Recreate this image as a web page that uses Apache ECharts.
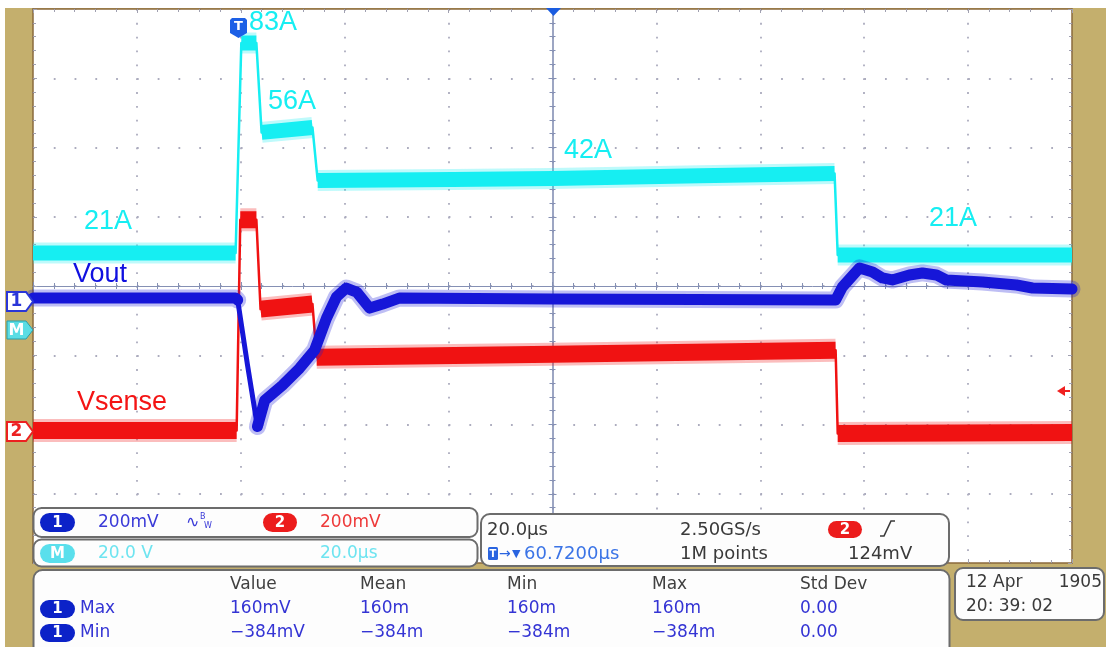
<!DOCTYPE html>
<html><head><meta charset="utf-8">
<script src="https://cdn.jsdelivr.net/npm/echarts@6/dist/echarts.min.js"></script>
<style>html,body{margin:0;padding:0;background:#fff}#c{width:1106px;height:647px}</style>
</head><body><div id="c"></div>
<script>
// ---------- timebase / graticule ----------
const timeMin = -100, timeMax = 100, timePerDiv = 20;   // µs
const divMin = -4, divMax = 4;                           // vertical divisions

// ---------- channel scaling (per division) and ground marker (division) ----------
const currentScale = 20,  currentGround = -0.652;   // M : 20.0 (A) / div
const voutScale    = 200, voutGround    = -0.217;   // Ch1 : 200 mV / div
const senseScale   = 200, senseGround   = -2.101;   // Ch2 : 200 mV / div

// ---------- Math trace: load current (A) ----------
const currentTime  = [-100, -61.0, -59.9, -57.0, -56.0, -46.2, -45.2, -19.2, 0, 28.3, 54.3, 54.9, 100];
const currentAmps  = [22.6, 22.6, 83.2, 83.2, 57.4, 58.8, 43.5, 43.8, 44.1, 44.9, 45.5, 22.0, 22.0];
const currentEdges = [1, 3, 5, 10];

// ---------- Ch2: Vsense (mV) ----------
const senseTime  = [-100, -60.8, -60.1, -57.0, -56.2, -46.2, -45.4, 0, 54.5, 54.9, 100];
const senseMv    = [2.7, 2.7, 611.5, 611.5, 353.5, 368.0, 214.4, 223.1, 234.7, -6.0, -3.1];
const senseEdges = [1, 3, 5, 8];

// ---------- Ch1: Vout (mV) ----------
const voutTime = [-100, -61.0, -60.6, -58.7, -56.8, -55.4, -52.0, -48.7, -45.8, -43.5, -41.6, -39.7, -37.7, -35.2, -32.7, -29.5, 0, 54.5, 55.8, 59.1, 61.6, 63.5, 65.4, 68.7, 71.2, 73.9, 75.8, 82.8, 89.3, 92.4, 100];
const voutMv   = [8.6, 8.6, 2.8, -185.6, -362.5, -287.1, -243.6, -194.3, -142.1, -49.4, 11.5, 37.6, 26.0, -20.4, -8.8, 8.6, 5.7, 2.8, 40.5, 95.6, 84.0, 66.6, 60.8, 75.3, 81.1, 75.3, 60.8, 55.0, 46.3, 37.6, 34.7];
const voutEdges = [2, 3];

// ---------- annotation / readout texts ----------
const currentLabels = ['83A', '56A', '42A', '21A', '21A'];
const measHeaders = ['Value', 'Mean', 'Min', 'Max', 'Std Dev'];
const measMax = ['160mV', '160m', '160m', '160m', '0.00'];
const measMin = ['\u2212384mV', '\u2212384m', '\u2212384m', '\u2212384m', '0.00'];

// ---------- helpers ----------
const pairs = (t, v) => t.map((x, i) => [x, v[i]]);
function band(t, v, edges) {
  const out = [];
  for (let i = 0; i < t.length; i++) {
    const prevEdge = edges.includes(i - 1), nextEdge = edges.includes(i);
    if (prevEdge) out.push([t[i], '-']);
    if (prevEdge && nextEdge) continue;
    out.push([t[i], v[i]]);
  }
  return out;
}
const range = (scale, ground) => ({ min: (divMin - ground) * scale, max: (divMax - ground) * scale });

function trace(t, v, edges, yIdx, color, thin, thick, z, cap) {
  const b = band(t, v, edges);
  return [
    { type: 'line', yAxisIndex: yIdx, data: pairs(t, v), symbol: 'none', animation: false, silent: true, z,
      lineStyle: { color, width: thin, join: 'round' } },
    { type: 'line', yAxisIndex: yIdx, data: b, symbol: 'none', connectNulls: false, animation: false, silent: true, z,
      lineStyle: { color, width: thick + 6, opacity: 0.28, cap: cap || 'butt', join: 'round' } },
    { type: 'line', yAxisIndex: yIdx, data: b, symbol: 'none', connectNulls: false, animation: false, silent: true, z,
      lineStyle: { color, width: thick, cap: cap || 'butt', join: 'round' } }
  ];
}

const BORDER = '#8a6a3c', TICK = '#a0a0b0', CENTER = '#8590b4', DOT = '#acacbe';
const baseX = { type: 'value', min: timeMin, max: timeMax, interval: timePerDiv, axisLabel: { show: false } };
const baseY = { type: 'value', min: divMin, max: divMax, interval: 1, axisLabel: { show: false } };

const xAxes = [
  Object.assign({}, baseX, { position: 'bottom', axisLine: { show: true, onZero: false, lineStyle: { color: BORDER, width: 1.5 } },
    axisTick: { show: true, inside: true, length: 4, lineStyle: { color: TICK } },
    minorTick: { show: true, splitNumber: 5, length: 3, lineStyle: { color: TICK } },
    splitLine: { show: true, lineStyle: { color: DOT, width: 1.8, type: [1.8, 69.25 / 5 - 1.8] } } }),
  Object.assign({}, baseX, { position: 'top', axisLine: { show: true, onZero: false, lineStyle: { color: BORDER, width: 1.5 } },
    axisTick: { show: true, inside: true, length: 4, lineStyle: { color: TICK } },
    minorTick: { show: true, splitNumber: 5, length: 3, lineStyle: { color: TICK } }, splitLine: { show: false } }),
  Object.assign({}, baseX, { position: 'bottom', axisLine: { show: true, onZero: true, onZeroAxisIndex: 0, lineStyle: { color: CENTER, width: 1 } },
    axisTick: { show: true, inside: true, length: 4, lineStyle: { color: CENTER } },
    minorTick: { show: true, splitNumber: 5, length: 3, lineStyle: { color: CENTER } }, splitLine: { show: false } }),
  Object.assign({}, baseX, { position: 'bottom', axisLine: { show: false, onZero: true, onZeroAxisIndex: 0 },
    axisTick: { show: true, inside: false, length: 4, lineStyle: { color: CENTER } },
    minorTick: { show: true, splitNumber: 5, length: 3, lineStyle: { color: CENTER } }, splitLine: { show: false } })
];
const yAxes = [
  Object.assign({}, baseY, { position: 'left', axisLine: { show: true, onZero: false, lineStyle: { color: BORDER, width: 1.5 } },
    axisTick: { show: true, inside: true, length: 4, lineStyle: { color: TICK } },
    minorTick: { show: true, splitNumber: 5, length: 3, lineStyle: { color: TICK } },
    splitLine: { show: true, lineStyle: { color: DOT, width: 1.8, type: [1.8, 1039 / 50 - 1.8] } } }),
  Object.assign({}, baseY, { position: 'right', axisLine: { show: true, onZero: false, lineStyle: { color: BORDER, width: 1.5 } },
    axisTick: { show: true, inside: true, length: 4, lineStyle: { color: TICK } },
    minorTick: { show: true, splitNumber: 5, length: 3, lineStyle: { color: TICK } }, splitLine: { show: false } }),
  Object.assign({}, baseY, { position: 'left', axisLine: { show: true, onZero: true, onZeroAxisIndex: 0, lineStyle: { color: CENTER, width: 1.6 } },
    axisTick: { show: true, inside: true, length: 4, lineStyle: { color: CENTER } },
    minorTick: { show: true, splitNumber: 5, length: 3, lineStyle: { color: CENTER } }, splitLine: { show: false } }),
  Object.assign({}, baseY, { position: 'left', axisLine: { show: false, onZero: true, onZeroAxisIndex: 0 },
    axisTick: { show: true, inside: false, length: 4, lineStyle: { color: CENTER } },
    minorTick: { show: true, splitNumber: 5, length: 3, lineStyle: { color: CENTER } }, splitLine: { show: false } }),
  Object.assign({ type: 'value', show: false, splitLine: { show: false } }, range(currentScale, currentGround)),
  Object.assign({ type: 'value', show: false, splitLine: { show: false } }, range(voutScale, voutGround)),
  Object.assign({ type: 'value', show: false, splitLine: { show: false } }, range(senseScale, senseGround))
];

const CYAN = '#16eef2', BLUE = '#1616d8', RED = '#f01212';
const series = [].concat(
  trace(currentTime, currentAmps, currentEdges, 4, CYAN, 2.5, 15, 3),
  trace(senseTime, senseMv, senseEdges, 6, RED, 2.5, 17, 4),
  trace(voutTime, voutMv, voutEdges, 5, BLUE, 5, 11, 5, 'round')
);

// ---------- graphic overlay ----------
const G = [];
const Z = 100;
function txt(x, y, text, fill, size, o = {}) {
  const al = o.align || 'left';
  G.push({ type: 'text', x, y, z: Z + 2, silent: true,
    style: { text, fill, font: `${o.weight || 'normal'} ${size}px ${o.family || '"DejaVu Sans"'}`,
      textAlign: al, align: al, textVerticalAlign: 'middle', verticalAlign: 'middle' } });
}
function rect(x, y, w, h, r, fill, stroke, lw, z = Z) {
  G.push({ type: 'rect', z, silent: true, shape: { x, y, width: w, height: h, r },
    style: { fill, stroke: stroke || null, lineWidth: lw || 0 } });
}
function pill(x, y, w, h, fill, label) {
  rect(x, y, w, h, h / 2, fill, null, 0, Z + 1);
  txt(x + w / 2, y + h / 2 + 0.5, label, '#ffffff', 15, { weight: 'bold', align: 'center' });
}
function poly(points, fill, stroke, lw, z = Z) {
  G.push({ type: 'polygon', z, silent: true, shape: { points }, style: { fill, stroke: stroke || null, lineWidth: lw || 0 } });
}
function pline(points, stroke, lw, z = Z) {
  G.push({ type: 'polyline', z, silent: true, shape: { points }, style: { fill: null, stroke, lineWidth: lw } });
}

// white margins
rect(0, 0, 1106, 8, 0, '#ffffff', null, 0, 1);
rect(0, 0, 5, 647, 0, '#ffffff', null, 0, 1);

// left channel markers
poly([[7, 292], [26, 292], [33, 301.5], [26, 311], [7, 311]], '#ffffff', '#2a36d8', 2, Z);
txt(16.5, 302, '1', '#2a36d8', 17, { weight: 'bold', align: 'center' });
poly([[7, 321], [26, 321], [33, 330], [26, 339], [7, 339]], '#5adde4', '#2a9ea8', 1, Z);
txt(16.5, 330.5, 'M', '#ffffff', 16, { weight: 'bold', align: 'center' });
poly([[7, 422], [26, 422], [33, 431.5], [26, 441], [7, 441]], '#ffffff', '#ec2020', 2, Z);
txt(16.5, 432, '2', '#ec2020', 17, { weight: 'bold', align: 'center' });

// trigger markers
poly([[546, 8], [561, 8], [553.5, 16]], '#1a5ce0', null, 0, Z);
poly([[230, 20], [232, 18], [245, 18], [247, 20], [247, 33], [238.5, 38], [230, 33]], '#1d60e6', null, 0, Z);
txt(238.5, 27, 'T', '#ffffff', 13, { weight: 'bold', align: 'center' });
poly([[1057, 391], [1065, 386], [1065, 396]], '#f02020', null, 0, Z);
pline([[1064, 391], [1070, 391]], '#f02020', 2, Z);

// trace annotations
const LF = '"Liberation Sans", Arial, sans-serif';
txt(249, 23, currentLabels[0], CYAN, 27, { family: LF });
txt(268, 102, currentLabels[1], CYAN, 27, { family: LF });
txt(564, 151, currentLabels[2], CYAN, 27, { family: LF });
txt(84, 222, currentLabels[3], CYAN, 27, { family: LF });
txt(929, 219, currentLabels[4], CYAN, 27, { family: LF });
txt(73, 275, 'Vout', '#1010e0', 27, { family: LF });
txt(77, 403, 'Vsense', '#f41414', 27, { family: LF });

// readout boxes
const BS = '#6c6c6c', DK = '#3a3a3a', MB = '#3434d4';
rect(33.5, 508, 444, 29, 8, '#fdfdfd', BS, 2);
rect(33.5, 539.5, 444, 27, 8, '#fdfdfd', BS, 2);
rect(481, 514, 468, 52, 9, '#fdfdfd', BS, 2);
rect(33.5, 570, 916, 90, 9, '#fdfdfd', BS, 2);
rect(955, 568, 149, 52, 8, '#fdfdfd', BS, 2);

pill(40, 513, 35, 19, '#0c22c8', '1');
txt(98, 522.5, '200mV', '#3a3ad8', 17);
txt(186, 522.5, '\u223f', '#3a3ad8', 16);
txt(200, 517, 'B', '#3a3ad8', 8);
txt(204, 526, 'W', '#3a3ad8', 8);
pill(263, 513, 34, 19, '#ec1c1c', '2');
txt(320, 522.5, '200mV', '#ee3a3a', 17);

pill(40, 544, 35, 19, '#5adfec', 'M');
txt(98, 554, '20.0 V', '#6ee4f0', 17);
txt(320, 554, '20.0\u00b5s', '#6ee4f0', 17);

txt(487, 530, '20.0\u00b5s', DK, 18);
txt(680, 530, '2.50GS/s', DK, 18);
pill(828, 521, 34, 17, '#ec1c1c', '2');
pline([[880, 536], [884, 536], [891, 521], [895, 521]], DK, 1.6, Z + 2);
rect(488, 547, 10, 13, 1.5, '#2a64e0', null, 0, Z + 1);
txt(493, 554, 'T', '#ffffff', 10, { weight: 'bold', align: 'center' });
txt(499, 554, '\u2192', '#2a64e0', 14);
txt(512, 554, '\u25bc', '#2a64e0', 11);
txt(524, 554, '60.7200\u00b5s', '#3b74e6', 18);
txt(680, 554, '1M points', DK, 18);
txt(848, 554, '124mV', DK, 18);

const colX = [230, 360, 507, 652, 800];
measHeaders.forEach((h, i) => txt(colX[i], 585, h, '#404040', 17));
pill(40, 600, 35, 18, '#0c22c8', '1');
txt(80, 609, 'Max', MB, 17);
measMax.forEach((v, i) => txt(colX[i], 609, v, MB, 17));
pill(40, 624, 35, 18, '#0c22c8', '1');
txt(80, 633, 'Min', MB, 17);
measMin.forEach((v, i) => txt(colX[i], 633, v, MB, 17));

txt(966, 583, '12 Apr', DK, 17);
txt(1102, 583, '1905', DK, 17, { align: 'right' });
txt(966, 607, '20: 39: 02', DK, 17);

const chart = echarts.init(document.getElementById('c'), null, { renderer: 'canvas', width: 1106, height: 647 });
chart.setOption({
  animation: false,
  backgroundColor: '#c4af6d',
  grid: { left: 33, right: 34, top: 9, bottom: 84, show: true, backgroundColor: '#ffffff', borderWidth: 0 },
  xAxis: xAxes,
  yAxis: yAxes,
  series,
  graphic: { elements: G }
});
</script></body></html>
